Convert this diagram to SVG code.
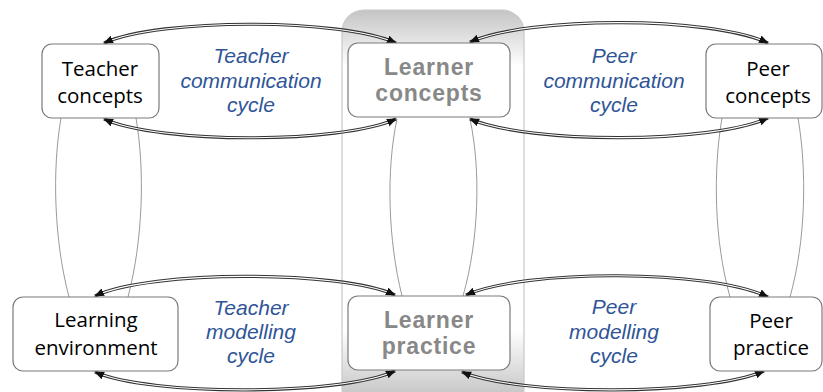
<svg xmlns="http://www.w3.org/2000/svg" width="823" height="392" viewBox="0 0 823 392">
<defs>
<linearGradient id="panelGrad" x1="0" y1="0" x2="0" y2="1">
<stop offset="0" stop-color="#c4c4c4"/>
<stop offset="0.14" stop-color="#ffffff"/>
<stop offset="0.80" stop-color="#ffffff"/>
<stop offset="0.97" stop-color="#c4c4c4"/>
</linearGradient>
<marker id="tip" markerUnits="userSpaceOnUse" markerWidth="12" markerHeight="10" refX="9" refY="4" orient="auto-start-reverse" viewBox="0 0 12 10">
<path d="M0,0 L10,4 L0,8 z" fill="#111"/>
</marker>
<style>
.box{fill:#fff;stroke:#7a7a7a;stroke-width:1.2}
.nt{font-family:"Open Sans","Noto Sans",sans-serif;font-size:20.5px;fill:#000;text-anchor:middle}
.lt{font-family:"Liberation Sans",Arial,sans-serif;font-weight:bold;font-size:23px;fill:#888;text-anchor:middle;letter-spacing:0.8px}
.cy{font-family:"Liberation Sans",Arial,sans-serif;font-style:italic;font-size:21px;fill:#2F5597;text-anchor:middle}
.outer{fill:none;stroke:#333;stroke-width:3.2}
.inner{fill:none;stroke:#fff;stroke-width:1.1}
.tips{fill:none;stroke:none;marker-start:url(#tip);marker-end:url(#tip)}
.link{fill:none;stroke:#9a9a9a;stroke-width:1}
</style>
</defs>
<rect width="823" height="392" fill="#fff"/>
<g id="learner-panel">
<rect x="342" y="10" width="182" height="400" rx="22" fill="url(#panelGrad)" stroke="#c8c8c8" stroke-width="1.2"/>
</g>
<g id="connectors">
<path class="link" d="M61,118 C52,170 54,240 69,297"/>
<path class="link" d="M136,118 C145,170 143,240 128,297"/>
<path class="link" d="M397,119 C386,170 388,240 402,296"/>
<path class="link" d="M470,119 C481,170 479,240 463,296"/>
<path class="link" d="M722,118 C713,170 714,240 730,297"/>
<path class="link" d="M798,118 C807,170 806,240 790,297"/>

<path class="outer" d="M104,43 C160,18 340,18 396,43"/>
<path class="inner" d="M104,43 C160,18 340,18 396,43"/>
<path class="tips" d="M104,43 C160,18 340,18 396,43"/>

<path class="outer" d="M104,119 C160,144 340,144 396,119"/>
<path class="inner" d="M104,119 C160,144 340,144 396,119"/>
<path class="tips" d="M104,119 C160,144 340,144 396,119"/>

<path class="outer" d="M470,42 C530,16 710,16 768,43"/>
<path class="inner" d="M470,42 C530,16 710,16 768,43"/>
<path class="tips" d="M470,42 C530,16 710,16 768,43"/>

<path class="outer" d="M470,119 C530,144 710,144 768,118"/>
<path class="inner" d="M470,119 C530,144 710,144 768,118"/>
<path class="tips" d="M470,119 C530,144 710,144 768,118"/>

<path class="outer" d="M95,296 C150,270 340,270 395,295"/>
<path class="inner" d="M95,296 C150,270 340,270 395,295"/>
<path class="tips" d="M95,296 C150,270 340,270 395,295"/>

<path class="outer" d="M95,372 C150,396 340,396 395,371"/>
<path class="inner" d="M95,372 C150,396 340,396 395,371"/>
<path class="tips" d="M95,372 C150,396 340,396 395,371"/>

<path class="outer" d="M466,295 C525,269 710,269 768,297"/>
<path class="inner" d="M466,295 C525,269 710,269 768,297"/>
<path class="tips" d="M466,295 C525,269 710,269 768,297"/>

<path class="outer" d="M462,372 C520,396 705,396 764,371"/>
<path class="inner" d="M462,372 C520,396 705,396 764,371"/>
<path class="tips" d="M462,372 C520,396 705,396 764,371"/>
</g>
<g id="teacher-concepts">
<rect class="box" x="42" y="44" width="117" height="74" rx="10"/>
<text class="nt" x="100" y="76">Teacher</text>
<text class="nt" x="100" y="103">concepts</text>
</g>
<g id="learner-concepts">
<rect class="box" x="348" y="43" width="162" height="74" rx="10"/>
<text class="lt" x="429" y="75">Learner</text>
<text class="lt" x="429" y="101">concepts</text>
</g>
<g id="peer-concepts">
<rect class="box" x="706" y="44" width="116" height="74" rx="10"/>
<text class="nt" x="768" y="76">Peer</text>
<text class="nt" x="768" y="103">concepts</text>
</g>
<g id="learning-environment">
<rect class="box" x="13" y="297" width="165" height="74" rx="10"/>
<text class="nt" x="96" y="327">Learning</text>
<text class="nt" x="96" y="355">environment</text>
</g>
<g id="learner-practice">
<rect class="box" x="348" y="296" width="162" height="74" rx="10"/>
<text class="lt" x="429" y="328">Learner</text>
<text class="lt" x="429" y="354">practice</text>
</g>
<g id="peer-practice">
<rect class="box" x="710" y="297" width="112" height="74" rx="10"/>
<text class="nt" x="771" y="328">Peer</text>
<text class="nt" x="771" y="355">practice</text>
</g>
<g id="teacher-communication-cycle">
<text class="cy" x="251" y="63">Teacher</text>
<text class="cy" x="251" y="88">communication</text>
<text class="cy" x="251" y="112">cycle</text>
</g>
<g id="peer-communication-cycle">
<text class="cy" x="614" y="63">Peer</text>
<text class="cy" x="614" y="88">communication</text>
<text class="cy" x="614" y="112">cycle</text>
</g>
<g id="teacher-modelling-cycle">
<text class="cy" x="251" y="315">Teacher</text>
<text class="cy" x="251" y="339">modelling</text>
<text class="cy" x="251" y="363">cycle</text>
</g>
<g id="peer-modelling-cycle">
<text class="cy" x="614" y="314">Peer</text>
<text class="cy" x="614" y="339">modelling</text>
<text class="cy" x="614" y="363">cycle</text>
</g>
</svg>
